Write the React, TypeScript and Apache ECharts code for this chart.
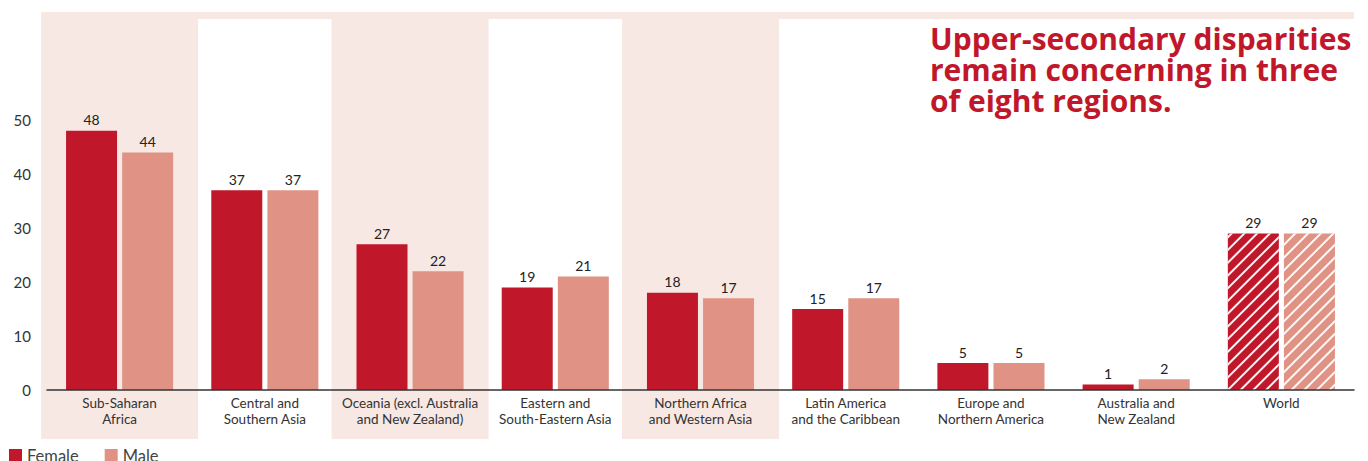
import React, { useEffect, useRef } from "react";
import * as echarts from "echarts";

const categories = [
  "Sub-Saharan\nAfrica",
  "Central and\nSouthern Asia",
  "Oceania (excl. Australia\nand New Zealand)",
  "Eastern and\nSouth-Eastern Asia",
  "Northern Africa\nand Western Asia",
  "Latin America\nand the Caribbean",
  "Europe and\nNorthern America",
  "Australia and\nNew Zealand",
  "World",
];
const female = [48, 37, 27, 19, 18, 15, 5, 1, 29];
const male = [44, 37, 22, 21, 17, 17, 5, 2, 29];
const shadedCategories = [0, 2, 4];
const hatchedCategories = [8];
const titleLines = [
  "Upper-secondary disparities",
  "remain concerning in three",
  "of eight regions.",
];

const RED = "#c1172b";
const SALMON = "#e09384";
const PINK = "#f7e8e4";
const FONT = "Lato, 'Noto Sans', sans-serif";

const decal = {
  symbol: "rect",
  symbolSize: 1,
  dashArrayX: [1, 0],
  dashArrayY: [1.3, 6.5],
  rotation: -Math.PI / 4,
  color: "rgba(255,255,255,0.95)",
};

const withHatch = (arr: number[]) =>
  arr.map((v, i) =>
    hatchedCategories.includes(i) ? { value: v, itemStyle: { decal } } : v
  );

export default function App() {
  const ref = useRef<HTMLDivElement>(null);
  useEffect(() => {
    if (!ref.current) return;
    const chart = echarts.init(ref.current, undefined, { renderer: "svg" });
    chart.setOption({
      animation: false,
      textStyle: { fontFamily: FONT },
      title: {
        text: titleLines.join("\n"),
        left: 925,
        top: 18,
        textStyle: {
          fontFamily: "'Open Sans', sans-serif",
          fontSize: 30,
          fontWeight: "bold",
          lineHeight: 31,
          color: RED,
        },
      },
      legend: {
        data: ["Female", "Male"],
        left: 4,
        top: 442,
        itemWidth: 13,
        itemHeight: 13,
        itemGap: 26,
        icon: "rect",
        textStyle: { fontSize: 16.5, color: "#444", fontFamily: FONT },
      },
      graphic: [
        {
          type: "rect",
          z: -10,
          shape: { x: 42, y: 12, width: 1312, height: 7 },
          style: { fill: PINK },
          silent: true,
        },
      ],
      grid: { left: 47, right: 14, top: 120, bottom: 71 },
      xAxis: {
        type: "category",
        data: categories,
        axisLine: { lineStyle: { color: "#333", width: 1.5 } },
        axisTick: { show: false },
        axisLabel: {
          color: "#333",
          fontSize: 13.5,
          lineHeight: 16,
          margin: 5,
          interval: 0,
          fontFamily: FONT,
        },
        z: 5,
      },
      yAxis: {
        type: "value",
        min: 0,
        max: 50,
        interval: 10,
        splitLine: { show: false },
        axisLine: { show: false },
        axisTick: { show: false },
        axisLabel: { color: "#333", fontSize: 15, margin: 16, fontFamily: FONT },
      },
      series: [
        {
          type: "custom",
          z: 0,
          silent: true,
          clip: false,
          data: shadedCategories.map((c) => [c, 0]),
          encode: { x: 0, y: 1 },
          renderItem: (params: any, api: any) => {
            const p = api.coord([api.value(0), 0]);
            const w = 157;
            return {
              type: "rect",
              shape: { x: p[0] - w / 2, y: 12, width: w, height: 427 },
              style: { fill: PINK },
            };
          },
        },
        {
          name: "Female",
          type: "bar",
          data: withHatch(female),
          barWidth: 51,
          barGap: "10%",
          itemStyle: { color: RED },
          label: {
            show: true,
            position: "top",
            distance: 4,
            color: "#222",
            fontSize: 14,
            fontFamily: FONT,
          },
        },
        {
          name: "Male",
          type: "bar",
          data: withHatch(male),
          barWidth: 51,
          barGap: "10%",
          itemStyle: { color: SALMON },
          label: {
            show: true,
            position: "top",
            distance: 4,
            color: "#222",
            fontSize: 14,
            fontFamily: FONT,
          },
        },
      ],
    });
    return () => chart.dispose();
  }, []);
  return (
    <div
      ref={ref}
      style={{ width: 1368, height: 461, margin: "-8px 0 0 -8px" }}
    />
  );
}
